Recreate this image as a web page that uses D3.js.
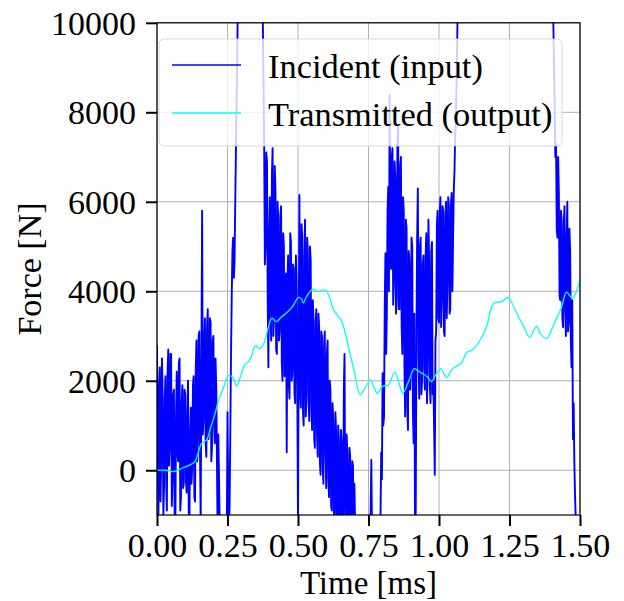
<!DOCTYPE html>
<html>
<head>
<meta charset="utf-8">
<script src="https://cdn.jsdelivr.net/npm/d3@7"></script>
<style>
  html, body { margin: 0; padding: 0; background: #fff; }
  text { font-family: "Liberation Serif", "Times New Roman", serif; }
</style>
</head>
<body>
<svg id="chart" width="624" height="601"></svg>
<script>
// Incident bar force, sampled every 0.0025 ms from 0 to 1.5 ms (values beyond the axis range are clipped)
const sampleStep = 0.0025;
const incidentForce = [
  2800, 600, -1200, 1900, 2300, -700, 300, 2500, 1700, -1000,
  -400, 1600, 2100, -200, -900, 2200, 2700, 100, 500, 2600,
  2600, -800, -200, 1700, 1800, -1100, -1300, 1200, 2200, 400,
  200, 2400, 2500, -900, -600, 1500, 1900, -400, -300, 1800,
  1700, -200, -500, 1300, 2000, -900, -1200, 800, 1400, -300,
  100, 1900, 2100, -600, -700, 2300, 2900, 200, 600, 3000,
  3100, 400, -1200, 2500, 5800, 800, 1100, 2900, 3400, 600,
  300, 3200, 3600, 700, 900, 3400, 3300, 200, 500, 2900,
  3000, 1000, 600, 2500, 1900, 300, -1500, 800, -200, -1300,
  -1800, -1900, -2000, -2100, -2100, -2000, -1900, -1700, -1600, -1400,
  1300, -400, -1300, -800, 900, 2600, 3900, 4900, 5200, 4300,
  4700, 6000, 7200, 8400, 9500, 11000, 12000, 13000, 14000, 15000,
  15500, 16000, 16500, 17000, 17500, 17800, 18000, 18000, 18000, 18000,
  17500, 17200, 17000, 16500, 16000, 15500, 15000, 14500, 14000, 13800,
  13500, 13200, 13000, 12800, 12500, 12000, 11500, 11200, 11000, 10600,
  10200, 8800, 7300, 4600, 5000, 7100, 6900, 3800, 2300, 5200,
  6100, 3300, 2900, 6600, 7200, 3000, 3400, 6800, 6300, 2700,
  2600, 6000, 5600, 2900, 3100, 5700, 5900, 2400, 2000, 5300,
  5000, 2100, 2500, 4400, 400, 4200, 4800, 1900, 1600, 5300,
  5100, 2000, 2200, 4600, 4500, 1700, 1500, 4800, 4200, 1900,
  -1200, 3000, 6150, 1800, 1400, 5500, 5200, 1300, 1000, 4800,
  5600, 1200, 1700, 5200, 4900, 1500, 1100, 5000, 4700, 1400,
  900, 3800, 3400, 700, 500, 3300, 3600, 800, 300, 3500,
  3200, 200, -100, 3100, 3000, 100, -300, 2800, 3100, 400,
  -400, 2600, 2900, -200, -600, 2000, 1800, -800, -900, 1500,
  1100, -1000, -1200, 1300, 900, -1100, -1300, 1000, 700, -1400,
  -1200, 900, 600, -1300, -1400, 1800, 2600, -1100, -1300, 800,
  400, -1500, -1500, 500, 300, -1600, -1600, 200, 100, -1700,
  -300, -1200, -1500, -1800, -1800, -2000, -2200, -2400, -2500, -2600,
  -2800, -2900, -3000, -3000, -3000, -3000, -2800, -2600, -2500, -2300,
  -2200, -2100, -2000, -1000, 230, -1500, -1900, -1900, -1800, -1800,
  -1700, -1700, -1600, -1600, -1500, -1400, -1300, -1100, 400, -200,
  2170, 1000, 1200, 3600, 4850, 2600, 3500, 5800, 6330, 4000,
  8400, 5200, 4500, 7000, 7200, 3700, 4200, 6900, 6550, 3500,
  3800, 7300, 7700, 3600, 3600, 6800, 7000, 3200, 2600, 6100,
  5800, 2300, 1200, 5600, 5400, 1400, 900, 4900, 4700, 1800,
  2200, 5200, 5000, 1300, 600, 3500, -1500, -900, 3000, 5200,
  6300, 2500, 1600, 5000, 5200, 1700, 2000, 4600, 4800, 2300,
  1800, 4800, 5300, 1500, 2400, 5600, 4700, 1900, 1500, 4900,
  5100, 1700, 2000, 1000, -100, 2900, 3100, 5500, 5800, 3400,
  3300, 5700, 6100, 3200, 3800, 5900, 5800, 3100, 3000, 5700,
  6000, 3400, 4200, 6100, 5900, 3500, 3600, 6000, 6200, 4000,
  5200, 6300, 6700, 7500, 7800, 8800, 9800, 11000, 12000, 13000,
  14000, 15000, 15500, 16000, 16500, 17000, 17000, 17200, 17500, 17800,
  18000, 18200, 18500, 18800, 19000, 19200, 19500, 19800, 20000, 20000,
  20000, 20200, 20500, 20500, 20500, 20800, 21000, 21000, 21000, 21000,
  21000, 21000, 21000, 21200, 21500, 21500, 21500, 21500, 21500, 21500,
  21500, 21500, 21500, 21200, 21000, 21000, 21000, 21000, 21000, 20800,
  20500, 20500, 20500, 20200, 20000, 20000, 20000, 20000, 20000, 19800,
  19500, 19500, 19500, 19500, 19500, 19200, 19000, 19000, 19000, 19000,
  19000, 18800, 18500, 18500, 18500, 18500, 18500, 18200, 18000, 18000,
  18000, 18000, 18000, 17800, 17500, 17500, 17500, 17200, 17000, 17000,
  17000, 16800, 16500, 16500, 16500, 16200, 16000, 16000, 16000, 15800,
  15500, 15200, 15000, 15000, 15000, 14800, 14500, 14200, 14000, 13800,
  13500, 13200, 13000, 12800, 12500, 12200, 12000, 11800, 11500, 11500,
  11500, 11200, 11000, 11000, 11000, 10900, 10800, 10700, 10600, 10500,
  10500, 10400, 10200, 9200, 8200, 7000, 7300, 5400, 5200, 7000,
  6200, 3900, 3800, 5800, 5600, 3400, 3200, 5500, 5900, 3600,
  3000, 5200, 6000, 3100, 3300, 5400, 4900, 2900, 2300, 3800,
  700, 1500, 160, -600, -1100, -1300, -1500, -1700, -2000, -2200,
  -2500
];

// Transmitted bar force (smooth signal)
const transmittedTime = [
  0.000, 0.030, 0.058, 0.090, 0.117, 0.135, 0.150, 0.158, 0.176, 0.190,
  0.206, 0.220, 0.235, 0.253, 0.268, 0.283, 0.297, 0.312, 0.324, 0.335,
  0.348, 0.365, 0.380, 0.395, 0.407, 0.424, 0.440, 0.460, 0.480, 0.501,
  0.512, 0.519, 0.530, 0.552, 0.572, 0.596, 0.610, 0.625, 0.640, 0.655,
  0.670, 0.684, 0.700, 0.720, 0.737, 0.757, 0.770, 0.781, 0.800, 0.820,
  0.843, 0.858, 0.872, 0.893, 0.913, 0.930, 0.945, 0.960, 0.973, 0.990,
  1.006, 1.027, 1.045, 1.060, 1.080, 1.098, 1.120, 1.145, 1.169, 1.193,
  1.222, 1.246, 1.265, 1.287, 1.300, 1.322, 1.346, 1.360, 1.381, 1.400,
  1.417, 1.435, 1.452, 1.474, 1.490, 1.500
];
const transmittedForce = [
  0, 0, -30, 50, 120, 200, 480, 600, 680, 950,
  1270, 1600, 1830, 2110, 2080, 1880, 2120, 2370, 2420, 2550,
  2780, 2720, 2850, 3200, 3400, 3320, 3420, 3520, 3650, 3860,
  3830, 3740, 3880, 4040, 4000, 4030, 3900, 3600, 3460, 3330,
  3000, 2620, 2200, 1690, 1830, 2020, 1850, 1720, 1880, 1900,
  2200, 1950, 1720, 2000, 2270, 2200, 2150, 2080, 1980, 2150,
  2270, 2070, 2250, 2320, 2400, 2630, 2700, 2900, 3220, 3720,
  3770, 3860, 3650, 3370, 3220, 2970, 3220, 3050, 2940, 3150,
  3400, 3650, 3980, 3840, 4050, 4250
];

const xTicks = [0, 0.25, 0.5, 0.75, 1.0, 1.25, 1.5];
const yTicks = [0, 2000, 4000, 6000, 8000, 10000];
const seriesNames = ["Incident (input)", "Transmitted (output)"];
const seriesColors = ["#0000ff", "#00ffff"];

const svg = d3.select("#chart");
const plotLeft = 157, plotRight = 580, plotTop = 22.8, plotBottom = 515;
const fontSize = 34;

const x = d3.scaleLinear().domain([0, 1.5]).range([plotLeft, plotRight]);
const y = d3.scaleLinear().domain([-1000, 10000]).range([plotBottom, plotTop]);

svg.append("defs").append("clipPath").attr("id", "plot-clip")
  .append("rect").attr("x", plotLeft).attr("y", plotTop)
  .attr("width", plotRight - plotLeft).attr("height", plotBottom - plotTop);

// grid
const grid = svg.append("g");
grid.selectAll("line.gx").data(xTicks).join("line").attr("class", "gx")
  .attr("x1", d => x(d)).attr("x2", d => x(d))
  .attr("y1", plotTop).attr("y2", plotBottom)
  .attr("stroke", "#b0b0b0").attr("stroke-width", 1);
grid.selectAll("line.gy").data(yTicks).join("line").attr("class", "gy")
  .attr("x1", plotLeft).attr("x2", plotRight)
  .attr("y1", d => y(d)).attr("y2", d => y(d))
  .attr("stroke", "#b0b0b0").attr("stroke-width", 1);

// data lines
const plot = svg.append("g").attr("clip-path", "url(#plot-clip)");
const incidentData = incidentForce.map((v, i) => [i * sampleStep, v]);
const transmittedData = transmittedTime.map((t, i) => [t, transmittedForce[i]]);

plot.append("path").datum(incidentData)
  .attr("fill", "none").attr("stroke", seriesColors[0]).attr("stroke-width", 1.9)
  .attr("stroke-linejoin", "round")
  .attr("d", d3.line().x(d => x(d[0])).y(d => y(d[1])));

plot.append("path").datum(transmittedData)
  .attr("fill", "none").attr("stroke", seriesColors[1]).attr("stroke-width", 1.3)
  .attr("d", d3.line().curve(d3.curveCatmullRom.alpha(0.5)).x(d => x(d[0])).y(d => y(d[1])));

// frame
svg.append("rect").attr("x", plotLeft).attr("y", plotTop)
  .attr("width", plotRight - plotLeft).attr("height", plotBottom - plotTop)
  .attr("fill", "none").attr("stroke", "#000").attr("stroke-width", 1.2);

// axes
const gx = svg.append("g").attr("transform", `translate(0,${plotBottom})`)
  .call(d3.axisBottom(x).tickValues(xTicks).tickFormat(d3.format(".2f")).tickSize(11));
gx.select(".domain").remove();
gx.selectAll(".tick line").attr("stroke", "#000").attr("stroke-width", 2);
gx.selectAll(".tick text").attr("font-size", fontSize).attr("fill", "#000")
  .attr("font-family", "Liberation Serif, serif")
  .attr("dy", null).attr("y", 42);

const gy = svg.append("g").attr("transform", `translate(${plotLeft},0)`)
  .call(d3.axisLeft(y).tickValues(yTicks).tickFormat(d3.format("d")).tickSize(11));
gy.select(".domain").remove();
gy.selectAll(".tick line").attr("stroke", "#000").attr("stroke-width", 2);
gy.selectAll(".tick text").attr("font-size", fontSize).attr("fill", "#000")
  .attr("font-family", "Liberation Serif, serif")
  .attr("x", -21).attr("dy", "0.34em");

// axis titles
svg.append("text").attr("x", (plotLeft + plotRight) / 2).attr("y", 594)
  .attr("text-anchor", "middle").attr("font-size", 33).text("Time [ms]");
svg.append("text").attr("transform", "translate(41,269) rotate(-90)")
  .attr("text-anchor", "middle").attr("font-size", fontSize).text("Force [N]");

// legend
const legend = svg.append("g");
legend.append("rect").attr("x", 159).attr("y", 39).attr("width", 403).attr("height", 107)
  .attr("rx", 5).attr("fill", "#fff").attr("fill-opacity", 0.8)
  .attr("stroke", "#cccccc").attr("stroke-opacity", 0.8);
const rows = [65, 113];
seriesNames.forEach((name, i) => {
  legend.append("line").attr("x1", 172).attr("x2", 241)
    .attr("y1", rows[i]).attr("y2", rows[i])
    .attr("stroke", seriesColors[i]).attr("stroke-width", 1.5);
  legend.append("text").attr("x", 268).attr("y", rows[i] + 13)
    .attr("font-size", 34.4).attr("fill", "#000").text(name);
});
</script>
</body>
</html>
